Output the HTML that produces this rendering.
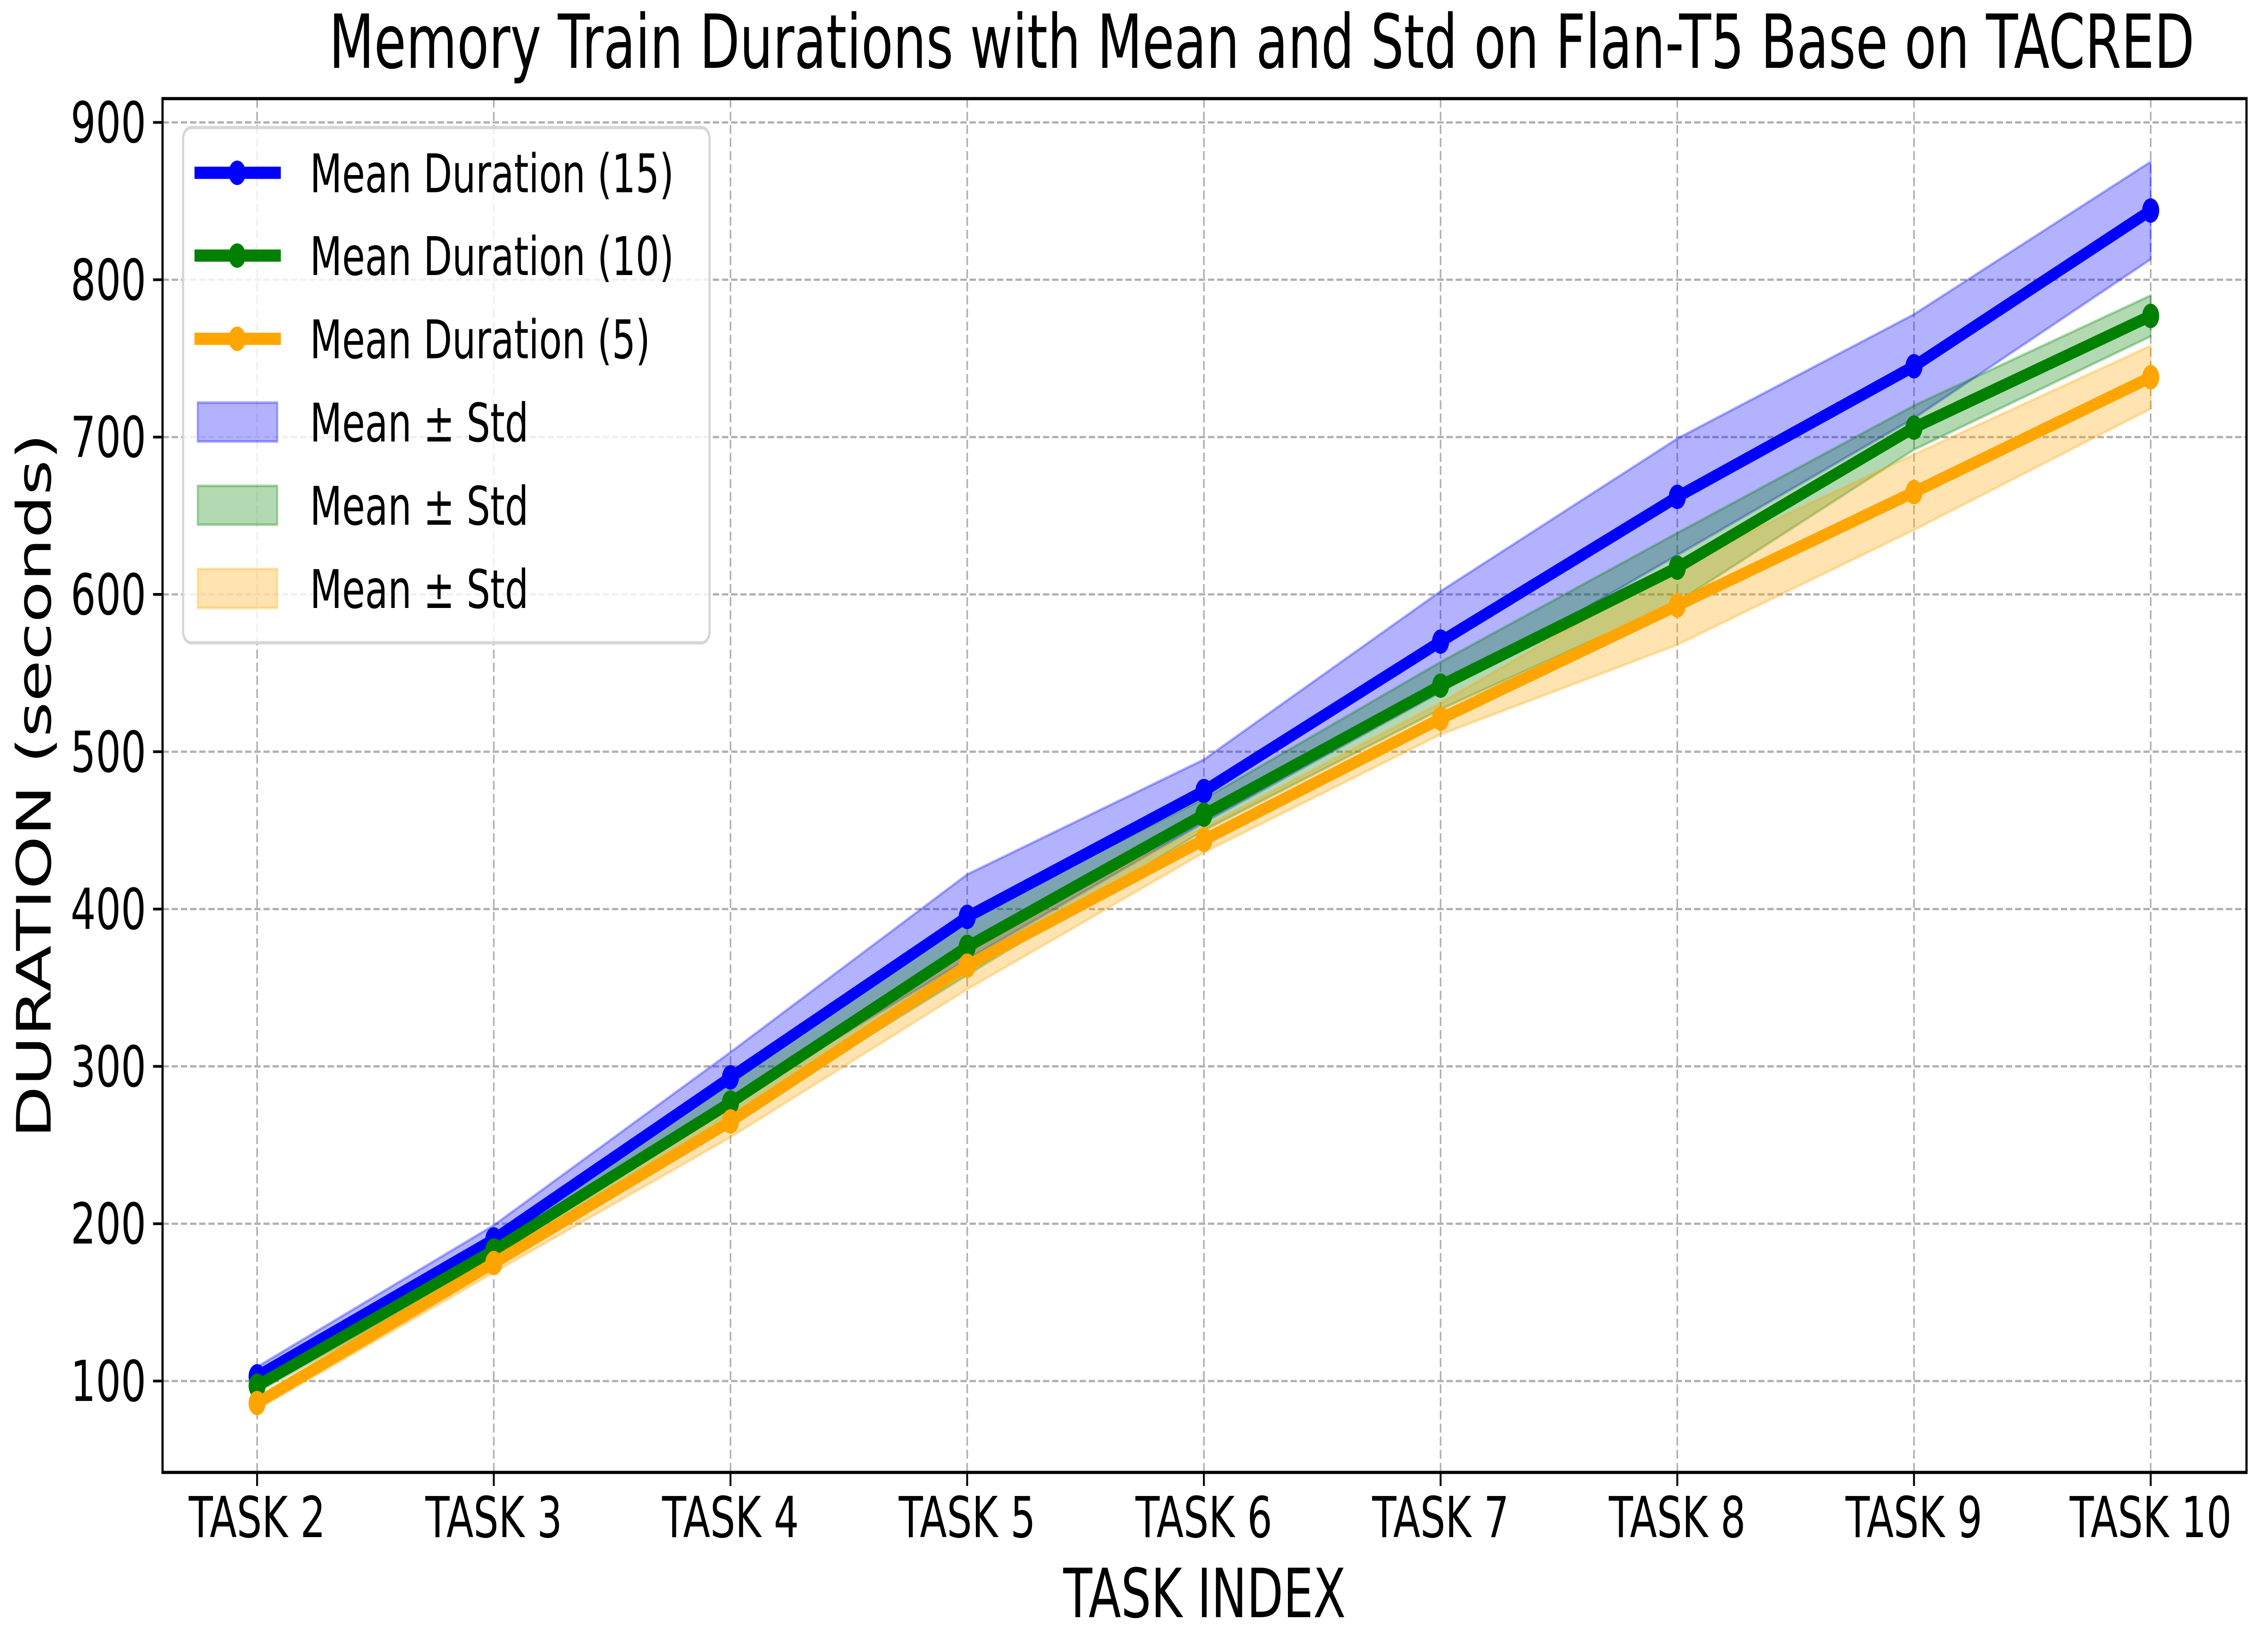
<!DOCTYPE html>
<html><head><meta charset="utf-8"><style>html,body{margin:0;padding:0;background:#fff;overflow:hidden;width:100%;height:100%}svg{display:block;width:100vw;height:100vh}</style></head>
<body>
<svg id="chart" xmlns="http://www.w3.org/2000/svg" viewBox="0 0 7153 3652" preserveAspectRatio="none" font-family="DejaVu Sans, Liberation Sans, sans-serif">
<rect width="7153" height="3652" fill="#fff"/>
<g id="grid"></g>
<g id="bands"></g>
<g id="lines"></g>
<rect x="514" y="218" width="6590" height="3037" fill="none" stroke="#000" stroke-width="7"/>
<g id="ticks"></g>
<text x="3990" y="150" text-anchor="middle" font-size="165">Memory Train Durations with Mean and Std on Flan-T5 Base on TACRED</text>
<text x="3809" y="3575" text-anchor="middle" font-size="150">TASK INDEX</text>
<text transform="translate(160,1737) rotate(-90)" text-anchor="middle" font-size="150">DURATION (seconds)</text>
<g>
<rect x="579" y="282" width="1665" height="1139" rx="25" fill="#fff" fill-opacity="0.8" stroke="#d6d6d6" stroke-width="7"/>
<line x1="615" y1="382" x2="888" y2="382" stroke="#0000ff" stroke-width="27"/><circle cx="750" cy="382" r="27" fill="#0000ff"/>
<text x="980" y="425" font-size="118">Mean Duration (15)</text>
<line x1="615" y1="565" x2="888" y2="565" stroke="#008000" stroke-width="27"/><circle cx="750" cy="565" r="27" fill="#008000"/>
<text x="980" y="608" font-size="118">Mean Duration (10)</text>
<line x1="615" y1="749" x2="888" y2="749" stroke="#ffa500" stroke-width="27"/><circle cx="750" cy="749" r="27" fill="#ffa500"/>
<text x="980" y="792" font-size="118">Mean Duration (5)</text>
<rect x="625" y="890" width="252" height="86" fill="#0000ff" fill-opacity="0.3" stroke="#0000ff" stroke-opacity="0.3" stroke-width="6"/>
<text x="980" y="976" font-size="118">Mean ± Std</text>
<rect x="625" y="1074" width="252" height="86" fill="#008000" fill-opacity="0.3" stroke="#008000" stroke-opacity="0.3" stroke-width="6"/>
<text x="980" y="1160" font-size="118">Mean ± Std</text>
<rect x="625" y="1258" width="252" height="86" fill="#ffa500" fill-opacity="0.3" stroke="#ffa500" stroke-opacity="0.3" stroke-width="6"/>
<text x="980" y="1344" font-size="118">Mean ± Std</text>
</g>
</svg>
<script>
const categories = ["TASK 2","TASK 3","TASK 4","TASK 5","TASK 6","TASK 7","TASK 8","TASK 9","TASK 10"];
const mean15 = [103,190,293,395,475,570,662,745,844];
const std15 = [6,9,16,27,20,32,37,33,31];
const mean10 = [97,183,277,376,460,542,617,706,777];
const std10 = [4,6,12,18,10,15,22,14,13];
const mean5 = [86,175,265,364,444,521,593,665,738];
const std5 = [4,6,10,15,8,10,25,24,20];
const yTicks = [100,200,300,400,500,600,700,800,900];

const NS="http://www.w3.org/2000/svg";
const x = i => 813 + i*748.5;
const y = v => 3053 - (v-100)*3.478;
function mk(tag, attrs, parent){const e=document.createElementNS(NS,tag);for(const k in attrs)e.setAttribute(k,attrs[k]);parent.appendChild(e);return e;}
const grid=document.getElementById('grid'), ticks=document.getElementById('ticks'), bands=document.getElementById('bands'), lines=document.getElementById('lines');

yTicks.forEach(v=>{
  const g=mk('line',{x1:514,x2:7104,y1:y(v),y2:y(v),stroke:'#b0b0b0','stroke-width':5,'stroke-dasharray':'20,9'},grid);
  
  
  const t=mk('line',{x1:484,x2:514,y1:y(v),y2:y(v),stroke:'#000','stroke-width':6},ticks);
  
  
  const l=mk('text',{x:462,y:y(v)+44,'text-anchor':'end','font-size':125},ticks);
  l.textContent=v;
  
  
});
categories.forEach((c,i)=>{
  const g=mk('line',{x1:x(i),x2:x(i),y1:218,y2:3255,stroke:'#b0b0b0','stroke-width':5,'stroke-dasharray':'20,9'},grid);
  
  
  const t=mk('line',{x1:x(i),x2:x(i),y1:3255,y2:3285,stroke:'#000','stroke-width':6},ticks);
  
  
  const l=mk('text',{x:x(i),y:3398,'text-anchor':'middle','font-size':125},ticks);
  l.textContent=c;
  
  
});

const series=[[mean15,std15,'#0000ff','15'],[mean10,std10,'#008000','10'],[mean5,std5,'#ffa500','5']];
series.forEach(([m,s,col,n])=>{
  const up=m.map((v,i)=>x(i)+','+y(v+s[i]));
  const lo=m.map((v,i)=>x(i)+','+y(v-s[i])).reverse();
  const b=mk('polygon',{points:up.concat(lo).join(' '),fill:col,'fill-opacity':0.3,stroke:col,'stroke-opacity':0.3,'stroke-width':6},bands);
  
  
});
series.forEach(([m,s,col,n])=>{
  const p=mk('polyline',{points:m.map((v,i)=>x(i)+','+y(v)).join(' '),fill:'none',stroke:col,'stroke-width':27,'stroke-linejoin':'round'},lines);
  
  
  m.forEach((v,i)=>{
    const c=mk('circle',{cx:x(i),cy:y(v),r:27,fill:col},lines);
    
    
  });
});
</script>
</body></html>
